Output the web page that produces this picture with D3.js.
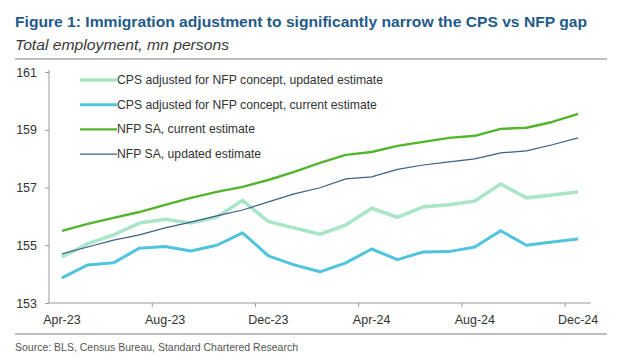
<!DOCTYPE html>
<html>
<head>
<meta charset="utf-8">
<script src="https://cdn.jsdelivr.net/npm/d3@7"></script>
<style>
  body { margin: 0; background: #fff; }
  svg { display: block; font-family: "Liberation Sans", Arial, sans-serif; }
</style>
</head>
<body>
<div id="chart"></div>
<script>
/* CONSTANTS AND GLOBALS */
const width = 620;
const height = 362;

const months = ["Apr-23","May-23","Jun-23","Jul-23","Aug-23","Sep-23","Oct-23","Nov-23","Dec-23",
  "Jan-24","Feb-24","Mar-24","Apr-24","May-24","Jun-24","Jul-24","Aug-24","Sep-24","Oct-24","Nov-24","Dec-24"];

const cpsUpdated = [154.6, 155.05, 155.36, 155.77, 155.9, 155.77, 155.98, 156.55, 155.82, 155.6, 155.38,
  155.7, 156.28, 155.97, 156.33, 156.4, 156.53, 157.12, 156.64, 156.74, 156.85];
const cpsCurrent = [153.87, 154.32, 154.39, 154.9, 154.96, 154.8, 155.0, 155.43, 154.63, 154.32, 154.08,
  154.39, 154.87, 154.5, 154.77, 154.78, 154.94, 155.5, 155.0, 155.11, 155.22];
const nfpCurrent = [155.5, 155.74, 155.95, 156.15, 156.4, 156.64, 156.85, 157.02, 157.26, 157.54, 157.85,
  158.13, 158.23, 158.44, 158.58, 158.72, 158.79, 159.03, 159.07, 159.27, 159.55];
const nfpUpdated = [154.7, 154.94, 155.18, 155.36, 155.6, 155.8, 156.02, 156.22, 156.5, 156.78, 156.99,
  157.3, 157.37, 157.63, 157.78, 157.89, 157.99, 158.2, 158.27, 158.48, 158.72];

const seriesNames = ["CPS adjusted for NFP concept, updated estimate", "CPS adjusted for NFP concept, current estimate",
  "NFP SA, current estimate", "NFP SA, updated estimate"];
const yTicks = [153, 155, 157, 159, 161];
const xTickLabels = ["Apr-23", "Aug-23", "Dec-23", "Apr-24", "Aug-24", "Dec-24"];

const series = [
  { name: seriesNames[0], values: cpsUpdated, color: "#abe5c9", w: 3.6 },
  { name: seriesNames[1], values: cpsCurrent, color: "#4fc4dc", w: 3 },
  { name: seriesNames[2], values: nfpCurrent, color: "#52b52c", w: 2.4 },
  { name: seriesNames[3], values: nfpUpdated, color: "#3d5f88", w: 1.2 }
];

const svg = d3.select("#chart")
  .append("svg")
  .attr("width", width)
  .attr("height", height);

/* TITLES */
svg.append("text")
  .attr("x", 15).attr("y", 27)
  .attr("font-size", 15.5).attr("font-weight", "bold")
  .attr("fill", "#1f5a8a")
  .attr("textLength", 572).attr("lengthAdjust", "spacingAndGlyphs")
  .text("Figure 1: Immigration adjustment to significantly narrow the CPS vs NFP gap");

svg.append("text")
  .attr("x", 15).attr("y", 50)
  .attr("font-size", 14).attr("font-style", "italic")
  .attr("fill", "#3a3a3a")
  .attr("textLength", 214).attr("lengthAdjust", "spacingAndGlyphs")
  .text("Total employment, mn persons");

svg.append("line")
  .attr("x1", 15).attr("x2", 607).attr("y1", 59).attr("y2", 59)
  .attr("stroke", "#a8a8a8").attr("stroke-width", 1.5);

/* SCALES */
const xScale = d3.scaleBand()
  .domain(months)
  .range([49, 591]);

const yScale = d3.scaleLinear()
  .domain([153, 161])
  .range([303, 72]);

/* AXES */
const yAxis = d3.axisLeft(yScale)
  .tickValues(yTicks)
  .tickSize(4)
  .tickPadding(8)
  .tickFormat(d3.format("d"));

const gy = svg.append("g")
  .attr("transform", "translate(49,0)")
  .call(yAxis);
gy.select(".domain").attr("stroke", "#9a9a9a").attr("d", "M0,70V303");
gy.selectAll(".tick line").attr("stroke", "#9a9a9a");
gy.selectAll(".tick text").attr("font-size", 12.5).attr("fill", "#333").attr("font-family", null);

// ticks between categories, every 4th month
const tickMonths = months.filter((m, i) => i % 4 === 0);
const gx = svg.append("g");
gx.append("line")
  .attr("x1", 49).attr("x2", 591).attr("y1", 303).attr("y2", 303)
  .attr("stroke", "#9a9a9a");
gx.selectAll("line.tk")
  .data(tickMonths.slice(1))
  .join("line")
  .attr("class", "tk")
  .attr("x1", d => xScale(d)).attr("x2", d => xScale(d))
  .attr("y1", 303).attr("y2", 307)
  .attr("stroke", "#9a9a9a");
gx.selectAll("text")
  .data(xTickLabels)
  .join("text")
  .attr("x", d => xScale(d) + xScale.bandwidth() / 2)
  .attr("y", 324)
  .attr("text-anchor", "middle")
  .attr("font-size", 12.5)
  .attr("fill", "#333")
  .text(d => d);

/* LINES */
const line = d3.line()
  .x((d, i) => xScale(months[i]) + xScale.bandwidth() / 2)
  .y(d => yScale(d));

svg.selectAll("path.series")
  .data(series)
  .join("path")
  .attr("class", "series")
  .attr("fill", "none")
  .attr("stroke", d => d.color)
  .attr("stroke-width", d => d.w)
  .attr("stroke-linejoin", "round")
  .attr("d", d => line(d.values));

/* LEGEND */
const legend = svg.selectAll("g.legend")
  .data(series)
  .join("g")
  .attr("class", "legend")
  .attr("transform", (d, i) => `translate(80,${80 + i * 24.7})`);

legend.append("line")
  .attr("x1", 0).attr("x2", 37)
  .attr("stroke", d => d.color)
  .attr("stroke-width", d => d.w);

legend.append("text")
  .attr("x", 37).attr("y", 4)
  .attr("font-size", 12.2)
  .attr("fill", "#333")
  .text(d => d.name);

/* FOOTER */
svg.append("line")
  .attr("x1", 15).attr("x2", 607).attr("y1", 334).attr("y2", 334)
  .attr("stroke", "#a8a8a8").attr("stroke-width", 1.5);

svg.append("text")
  .attr("x", 15).attr("y", 351)
  .attr("font-size", 11)
  .attr("fill", "#555")
  .attr("textLength", 283).attr("lengthAdjust", "spacingAndGlyphs")
  .text("Source: BLS, Census Bureau, Standard Chartered Research");
</script>
</body>
</html>
